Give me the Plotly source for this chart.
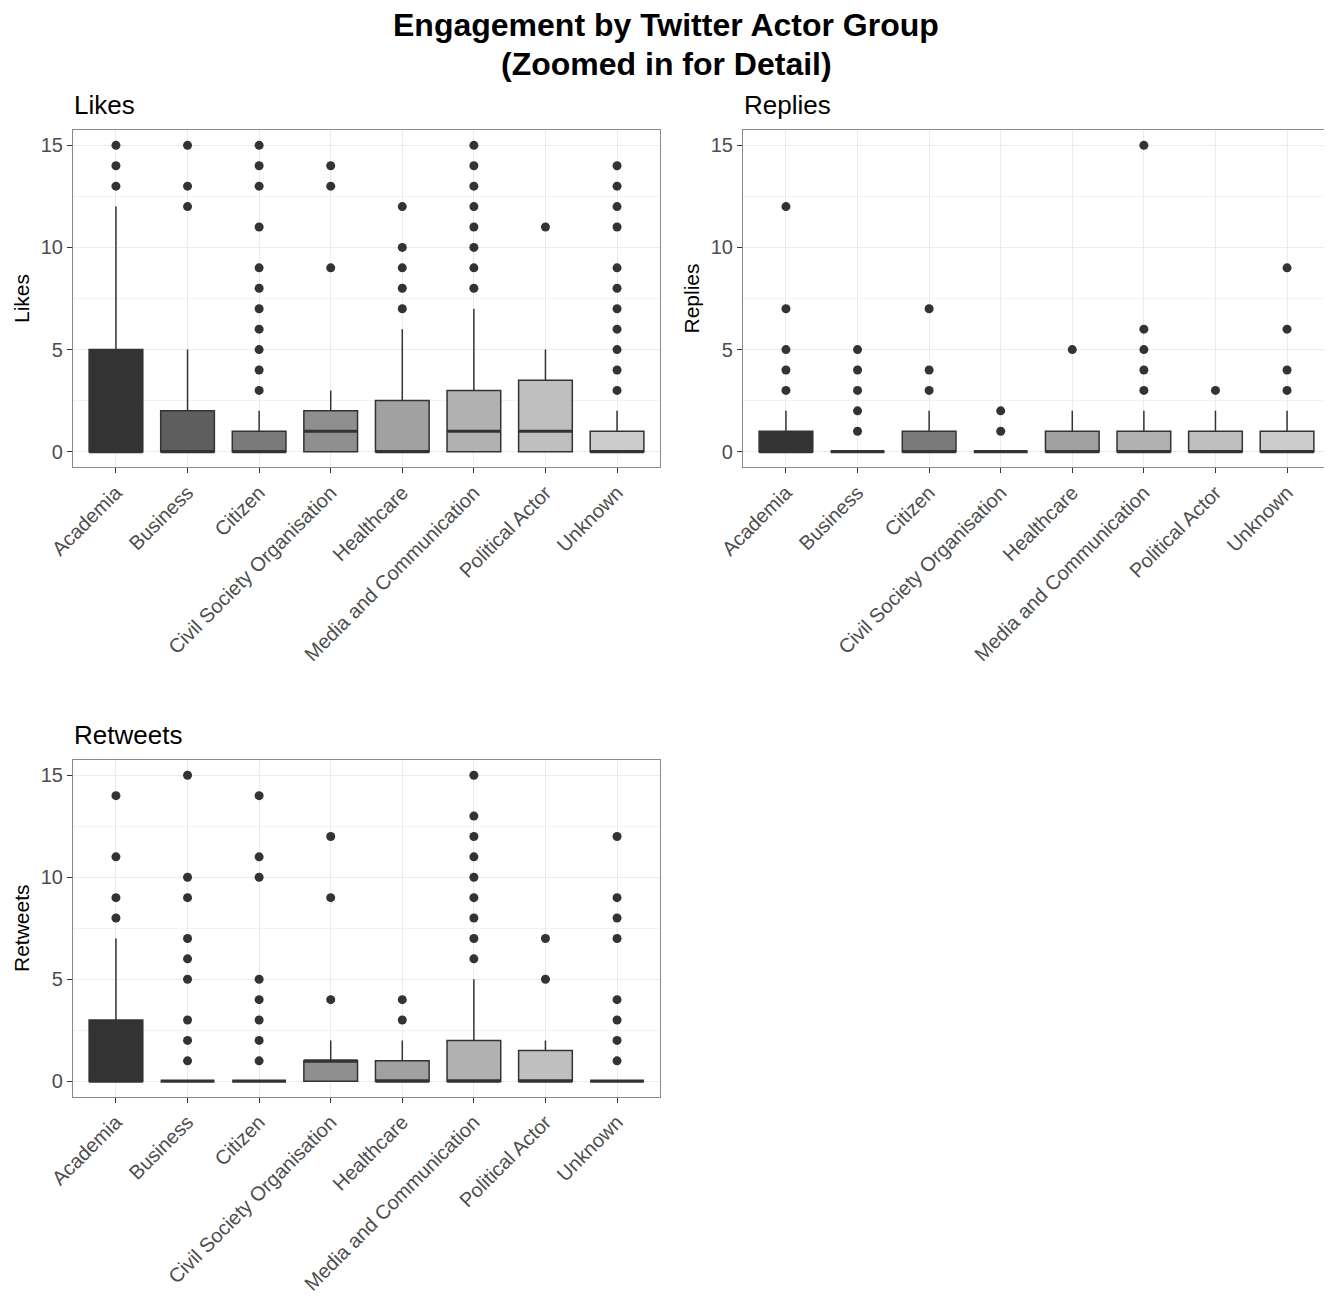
import plotly.graph_objects as go

# ---------------- data ----------------
categories = ["Academia", "Business", "Citizen", "Civil Society Organisation",
              "Healthcare", "Media and Communication", "Political Actor", "Unknown"]
y_tick_values = [0, 5, 10, 15]
minor_tick_values = [2.5, 7.5, 12.5]

# Likes
likes_q1 = [0, 0, 0, 0, 0, 0, 0, 0]
likes_median = [0, 0, 0, 1, 0, 1, 1, 0]
likes_q3 = [5, 2, 1, 2, 2.5, 3, 3.5, 1]
likes_lower = [0, 0, 0, 0, 0, 0, 0, 0]
likes_upper = [12, 5, 2, 3, 6, 7, 5, 2]
likes_outliers = [
    [13, 14, 15],
    [12, 13, 15],
    [3, 4, 5, 6, 7, 8, 9, 11, 13, 14, 15],
    [9, 13, 14],
    [7, 8, 9, 10, 12],
    [8, 9, 10, 11, 12, 13, 14, 15],
    [11],
    [3, 4, 5, 6, 7, 8, 9, 11, 12, 13, 14],
]

# Replies
replies_q1 = [0, 0, 0, 0, 0, 0, 0, 0]
replies_median = [0, 0, 0, 0, 0, 0, 0, 0]
replies_q3 = [1, 0, 1, 0, 1, 1, 1, 1]
replies_lower = [0, 0, 0, 0, 0, 0, 0, 0]
replies_upper = [2, 0, 2, 0, 2, 2, 2, 2]
replies_outliers = [
    [3, 4, 5, 7, 12],
    [1, 2, 3, 4, 5],
    [3, 4, 7],
    [1, 2],
    [5],
    [3, 4, 5, 6, 15],
    [3],
    [3, 4, 6, 9],
]

# Retweets
retweets_q1 = [0, 0, 0, 0, 0, 0, 0, 0]
retweets_median = [0, 0, 0, 1, 0, 0, 0, 0]
retweets_q3 = [3, 0, 0, 1, 1, 2, 1.5, 0]
retweets_lower = [0, 0, 0, 0, 0, 0, 0, 0]
retweets_upper = [7, 0, 0, 2, 2, 5, 2, 0]
retweets_outliers = [
    [8, 9, 11, 14],
    [1, 2, 3, 5, 6, 7, 9, 10, 15],
    [1, 2, 3, 4, 5, 10, 11, 14],
    [4, 9, 12],
    [3, 4],
    [6, 7, 8, 9, 10, 11, 12, 13, 15],
    [5, 7],
    [1, 2, 3, 4, 7, 8, 9, 12],
]

fill_colors = ["#333333", "#5e5e5e", "#7a7a7a", "#8f8f8f",
               "#a1a1a1", "#b1b1b1", "#bfbfbf", "#cccccc"]

# ---------------- styling ----------------
FONT = "Liberation Sans, Arial, Helvetica, sans-serif"
PAGE_W, PAGE_H = 1332, 1304
OFF = 8  # default body margin of the html page
W, H = PAGE_W - OFF, PAGE_H - OFF
DARK = "#333333"
BOX_W = 0.75


def px_x(v):
    return (v - OFF) / W


def px_y(v):
    return 1 - (v - OFF) / H


panels = [
    dict(name="Likes", xa="x", ya="y",
         xdom=[px_x(73), px_x(660)], ydom=[px_y(467), px_y(130)],
         q1=likes_q1, med=likes_median, q3=likes_q3, lo=likes_lower, hi=likes_upper,
         out=likes_outliers, title_x=72, title_y=105),
    dict(name="Replies", xa="x2", ya="y2",
         xdom=[px_x(743), px_x(1330)], ydom=[px_y(467), px_y(130)],
         q1=replies_q1, med=replies_median, q3=replies_q3, lo=replies_lower, hi=replies_upper,
         out=replies_outliers, title_x=742, title_y=105),
    dict(name="Retweets", xa="x3", ya="y3",
         xdom=[px_x(73), px_x(660)], ydom=[px_y(1096.5), px_y(760)],
         q1=retweets_q1, med=retweets_median, q3=retweets_q3, lo=retweets_lower, hi=retweets_upper,
         out=retweets_outliers, title_x=72, title_y=735),
]

fig = go.Figure()

for p in panels:
    for i, cat in enumerate(categories):
        fig.add_trace(go.Box(
            x=[i], q1=[p["q1"][i]], median=[p["med"][i]], q3=[p["q3"][i]],
            lowerfence=[p["lo"][i]], upperfence=[p["hi"][i]],
            width=BOX_W, whiskerwidth=0, boxpoints=False,
            fillcolor=fill_colors[i], line=dict(color=DARK, width=1.5),
            name=cat, showlegend=False, xaxis=p["xa"], yaxis=p["ya"],
        ))
    # thick median lines (ggplot style)
    mx, my = [], []
    for i in range(len(categories)):
        mx += [i - BOX_W / 2, i + BOX_W / 2, None]
        my += [p["med"][i], p["med"][i], None]
    fig.add_trace(go.Scatter(
        x=mx, y=my, mode="lines", line=dict(color=DARK, width=3.2),
        showlegend=False, hoverinfo="skip", xaxis=p["xa"], yaxis=p["ya"],
    ))
    # outliers
    ox, oy = [], []
    for i, vals in enumerate(p["out"]):
        ox += [i] * len(vals)
        oy += vals
    fig.add_trace(go.Scatter(
        x=ox, y=oy, mode="markers", marker=dict(color=DARK, size=9),
        showlegend=False, xaxis=p["xa"], yaxis=p["ya"],
    ))

layout = dict(
    width=W, height=H, autosize=False,
    margin=dict(l=0, r=0, t=0, b=0, pad=0, autoexpand=False),
    paper_bgcolor="white", plot_bgcolor="white",
    font=dict(family=FONT, color="black"),
    showlegend=False,
)

annotations = [
    dict(text="<b>Engagement by Twitter Actor Group</b>", x=px_x(PAGE_W / 2), y=px_y(25),
         xref="paper", yref="paper", xanchor="center", yanchor="middle",
         showarrow=False, font=dict(size=32, family=FONT, color="black")),
    dict(text="<b>(Zoomed in for Detail)</b>", x=px_x(PAGE_W / 2), y=px_y(64),
         xref="paper", yref="paper", xanchor="center", yanchor="middle",
         showarrow=False, font=dict(size=32, family=FONT, color="black")),
]

for k, p in enumerate(panels):
    sfx = "" if k == 0 else str(k + 1)
    layout["xaxis" + sfx] = dict(
        domain=p["xdom"], anchor=p["ya"], range=[-0.6, len(categories) - 0.4],
        tickmode="array", tickvals=list(range(len(categories))), ticktext=categories,
        tickangle=-45, tickfont=dict(size=20, color="#4d4d4d", family=FONT),
        ticks="outside", ticklen=5, tickcolor=DARK, tickwidth=1.2,
        showgrid=True, gridcolor="#ebebeb", gridwidth=1.3,
        showline=True, mirror=True, linecolor="#8a8a8a", linewidth=1.2,
        zeroline=False, fixedrange=True, automargin=False,
    )
    layout["yaxis" + sfx] = dict(
        domain=p["ydom"], anchor=p["xa"], range=[-0.75, 15.75],
        tickmode="array", tickvals=y_tick_values, ticktext=[str(v) for v in y_tick_values],
        tickfont=dict(size=20, color="#4d4d4d", family=FONT),
        ticks="outside", ticklen=5, tickcolor=DARK, tickwidth=1.2,
        showgrid=True, gridcolor="#ebebeb", gridwidth=1.3,
        minor=dict(tickvals=minor_tick_values, showgrid=True, gridcolor="#f2f2f2",
                   gridwidth=1, ticks=""),
        showline=True, mirror=True, linecolor="#8a8a8a", linewidth=1.2,
        zeroline=False, fixedrange=True, automargin=False,
        title=dict(text=p["name"], font=dict(size=21, color="black", family=FONT), standoff=5),
    )
    annotations.append(dict(
        text=p["name"], x=px_x(p["title_x"]), y=px_y(p["title_y"]),
        xref="paper", yref="paper", xanchor="left", yanchor="middle",
        showarrow=False, font=dict(size=26, family=FONT, color="black"),
    ))

layout["annotations"] = annotations
fig.update_layout(**layout)

fig.write_html("out.html")
